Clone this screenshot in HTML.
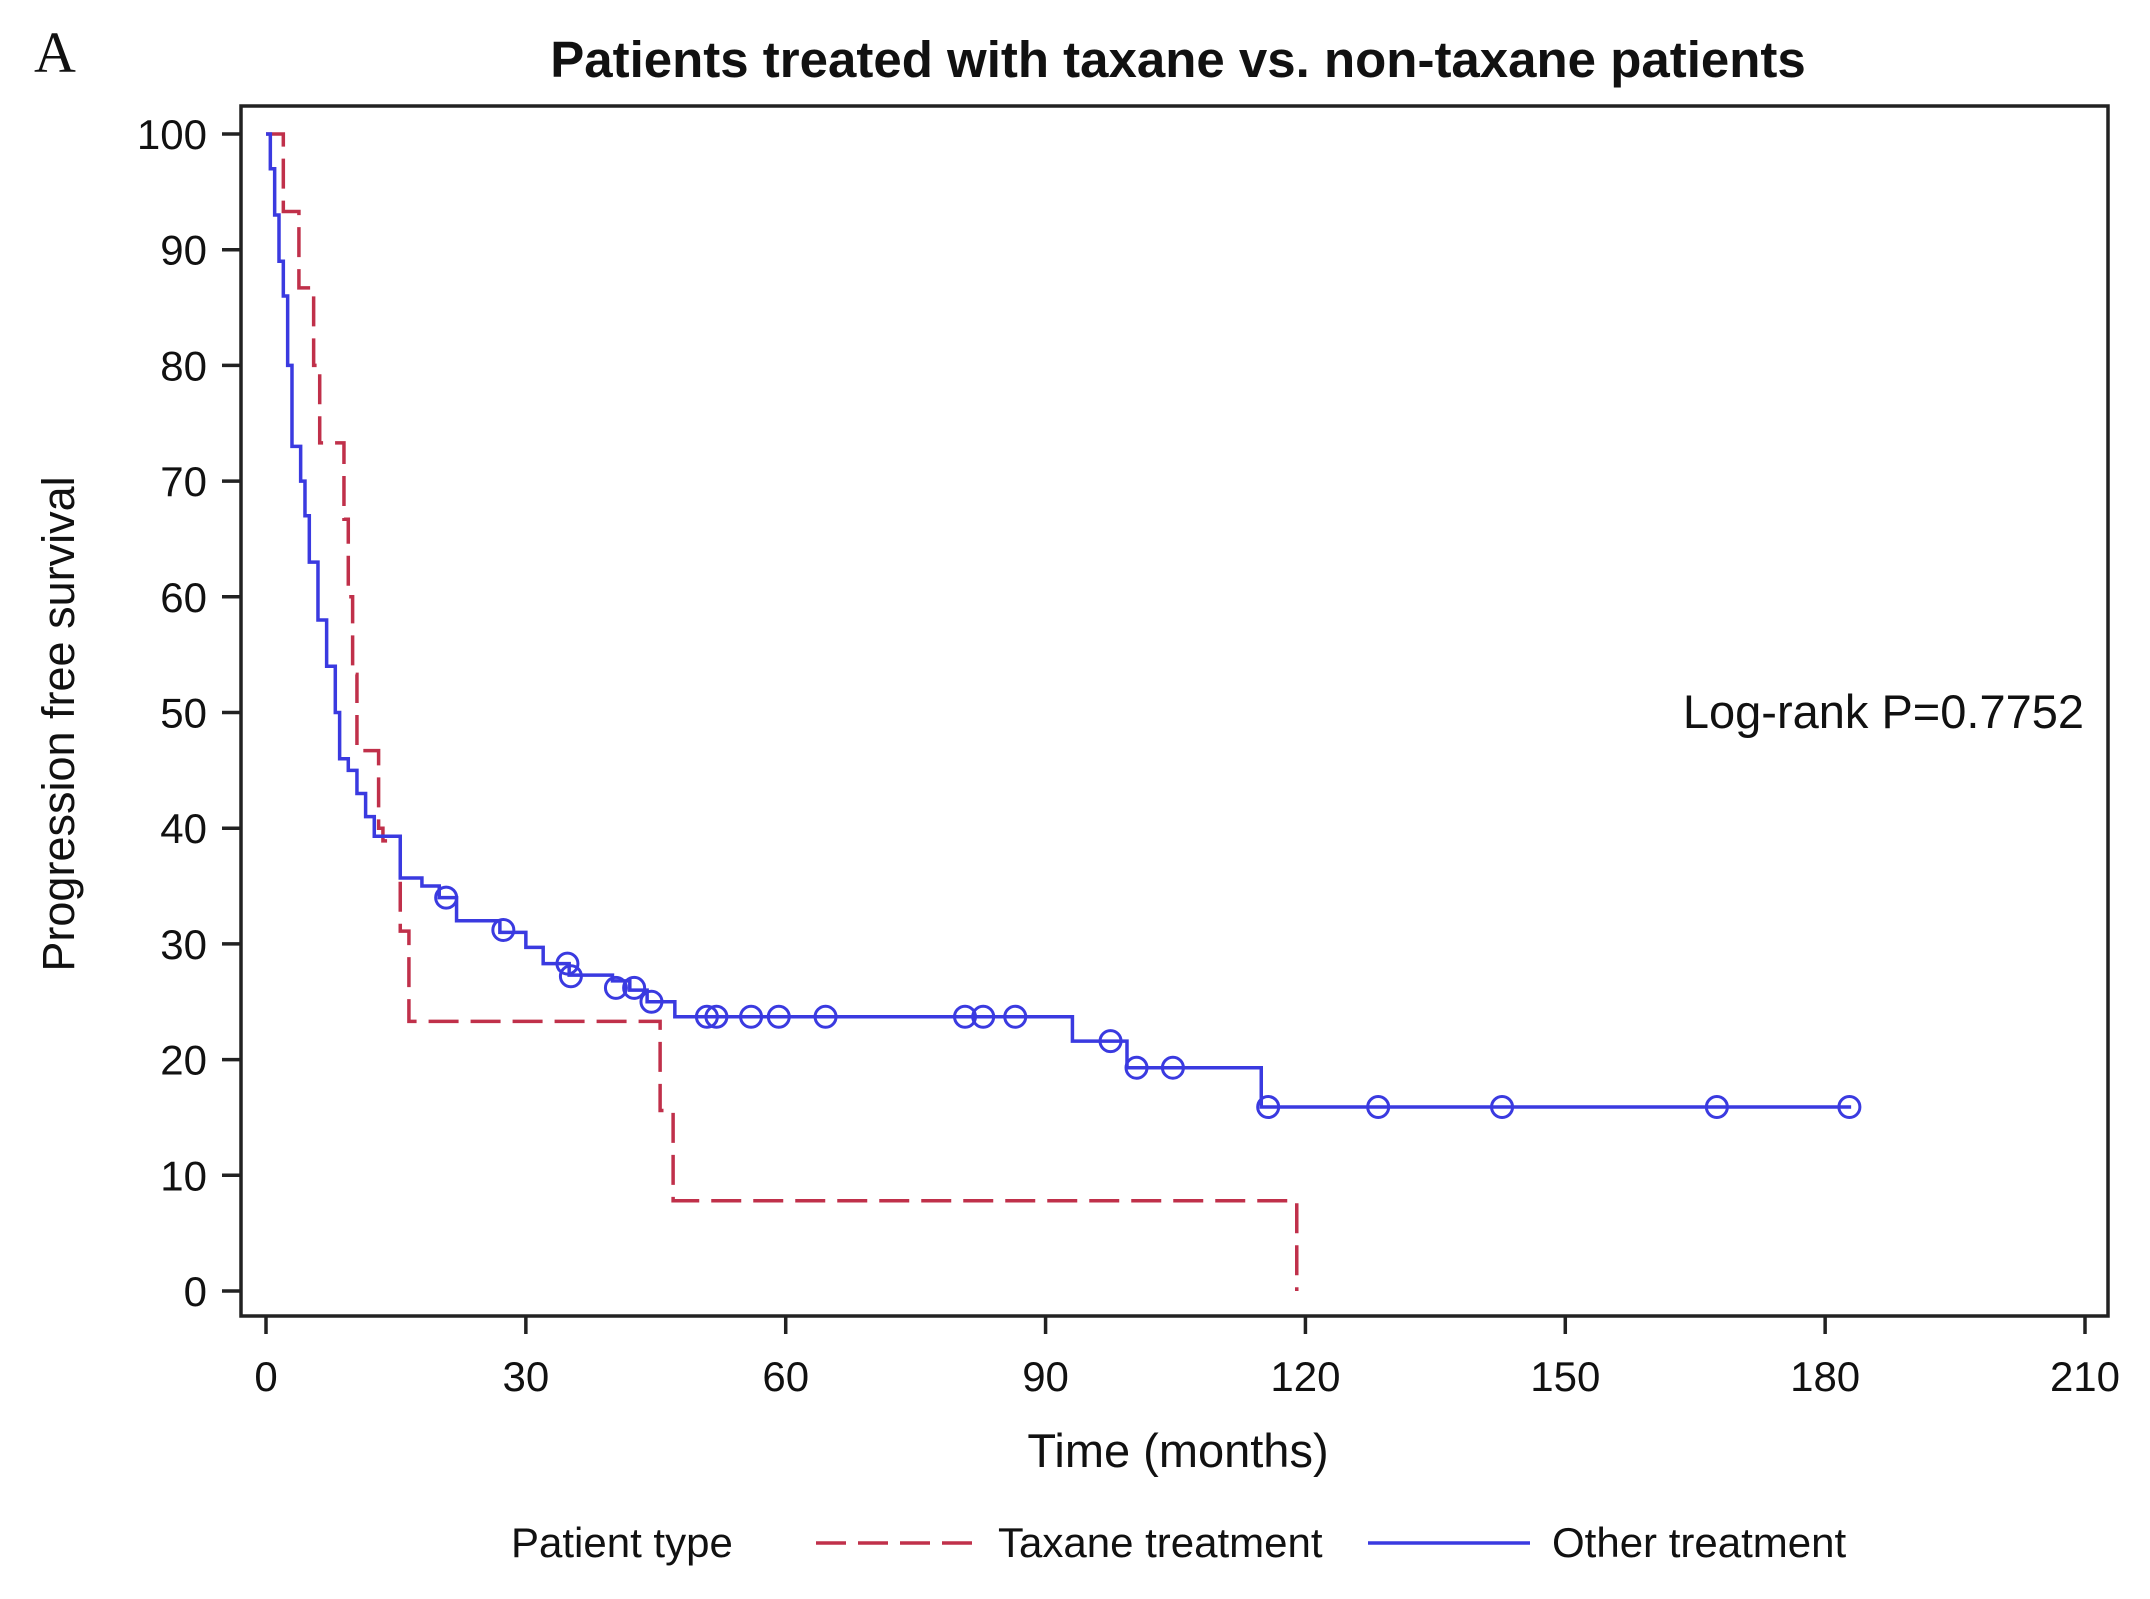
<!DOCTYPE html>
<html><head><meta charset="utf-8"><style>
html,body{margin:0;padding:0;background:#fff;}
svg{display:block;}
text{font-family:"Liberation Sans",Arial,sans-serif;fill:#111;}
</style></head><body>
<svg id="chart" width="2150" height="1599" viewBox="0 0 2150 1599" xmlns="http://www.w3.org/2000/svg">
<text x="34" y="72" style="font-family:'Liberation Serif',serif;font-size:58px;">A</text>
<text x="1178" y="77" text-anchor="middle" style="font-weight:bold;font-size:51px;">Patients treated with taxane vs. non-taxane patients</text>
<rect x="241" y="106" width="1867" height="1210" fill="none" stroke="#222" stroke-width="3.5"/>
<g id="yaxis"></g>
<g id="xaxis"></g>
<text transform="translate(74,724) rotate(-90)" text-anchor="middle" style="font-size:45px;">Progression free survival</text>
<text x="1178" y="1467" text-anchor="middle" style="font-size:47px;">Time (months)</text>
<text x="2084" y="728" text-anchor="end" style="font-size:47px;">Log-rank P=0.7752</text>
<g id="series"></g>
<g>
<text x="511" y="1557" style="font-size:42px;">Patient type</text>
<line x1="816" y1="1543" x2="976" y2="1543" stroke="#c0304a" stroke-width="3.5" stroke-dasharray="30,12"/>
<text x="998" y="1557" style="font-size:42px;">Taxane treatment</text>
<line x1="1368" y1="1543" x2="1530" y2="1543" stroke="#3a3ae0" stroke-width="3.5"/>
<text x="1552" y="1557" style="font-size:42px;">Other treatment</text>
</g>
</svg>
<script>
const xTicks = [0,30,60,90,120,150,180,210];
const yTicks = [0,10,20,30,40,50,60,70,80,90,100];
const taxaneTimes = [0,2,3.8,5.5,6.2,9,9.5,10,10.5,13,13.5,15.5,16.5,45.5,47,119];
const taxaneSurv = [100,93.3,86.7,80,73.3,66.7,60,53.3,46.7,40,38.9,31.1,23.3,15.6,7.8,0];
const otherTimes = [0,0.5,1,1.5,2,2.5,3,4,4.5,5,6,7,8,8.5,9.5,10.5,11.5,12.5,15.5,18,20,22,27,30,32,35,40,42,44,47.2,93.1,99.4,114.9];
const otherSurv = [100,97,93,89,86,80,73,70,67,63,58,54,50,46,45,43,41,39.3,35.7,35,34,32,31,29.7,28.3,27.3,26.8,26,25,23.7,21.6,19.3,15.9];
const otherEnd = 183;
const censorTimes = [20.8,27.4,34.8,35.2,40.4,42.5,44.5,50.9,52,56,59.2,64.6,80.7,82.8,86.5,97.5,100.5,104.7,115.7,128.4,142.7,167.5,182.8];
const censorSurv = [34,31.2,28.3,27.2,26.2,26.2,25,23.7,23.7,23.7,23.7,23.7,23.7,23.7,23.7,21.6,19.3,19.3,15.9,15.9,15.9,15.9,15.9];

const NS="http://www.w3.org/2000/svg";
function X(t){return 266+(t/210)*(2085-266);}
function Y(v){return 1291-(v/100)*(1291-134);}
function mk(tag,attrs,parent){const e=document.createElementNS(NS,tag);for(const k in attrs)e.setAttribute(k,attrs[k]);parent.appendChild(e);return e;}
const ya=document.getElementById('yaxis'), xa=document.getElementById('xaxis'), sg=document.getElementById('series');
yTicks.forEach(v=>{
  const l=mk('line',{x1:222,x2:241,y1:Y(v),y2:Y(v),stroke:'#222','stroke-width':3.5},ya);
  
  
  const t=mk('text',{x:207,y:Y(v)+15,'text-anchor':'end',style:'font-size:42px'},ya);
  t.textContent=v;
  
  
});
xTicks.forEach(v=>{
  const l=mk('line',{x1:X(v),x2:X(v),y1:1316,y2:1334,stroke:'#222','stroke-width':3.5},xa);
  
  
  const t=mk('text',{x:X(v),y:1391,'text-anchor':'middle',style:'font-size:42px'},xa);
  t.textContent=v;
  
  
});
function stepPath(ts,ss,end){
  let d='M'+X(ts[0])+','+Y(ss[0]);
  for(let i=1;i<ts.length;i++){d+=' H'+X(ts[i])+' V'+Y(ss[i]);}
  if(end!==undefined)d+=' H'+X(end);
  return d;
}
const tp=mk('path',{d:stepPath(taxaneTimes,taxaneSurv),fill:'none',stroke:'#c0304a','stroke-width':3.5,'stroke-dasharray':'30,12'},sg);


const op=mk('path',{d:stepPath(otherTimes,otherSurv,otherEnd),fill:'none',stroke:'#3a3ae0','stroke-width':3.5},sg);


censorTimes.forEach((t,i)=>{
  const c=mk('circle',{cx:X(t),cy:Y(censorSurv[i]),r:10.5,fill:'none',stroke:'#3a3ae0','stroke-width':3},sg);
  
  
});
</script>
</body></html>
